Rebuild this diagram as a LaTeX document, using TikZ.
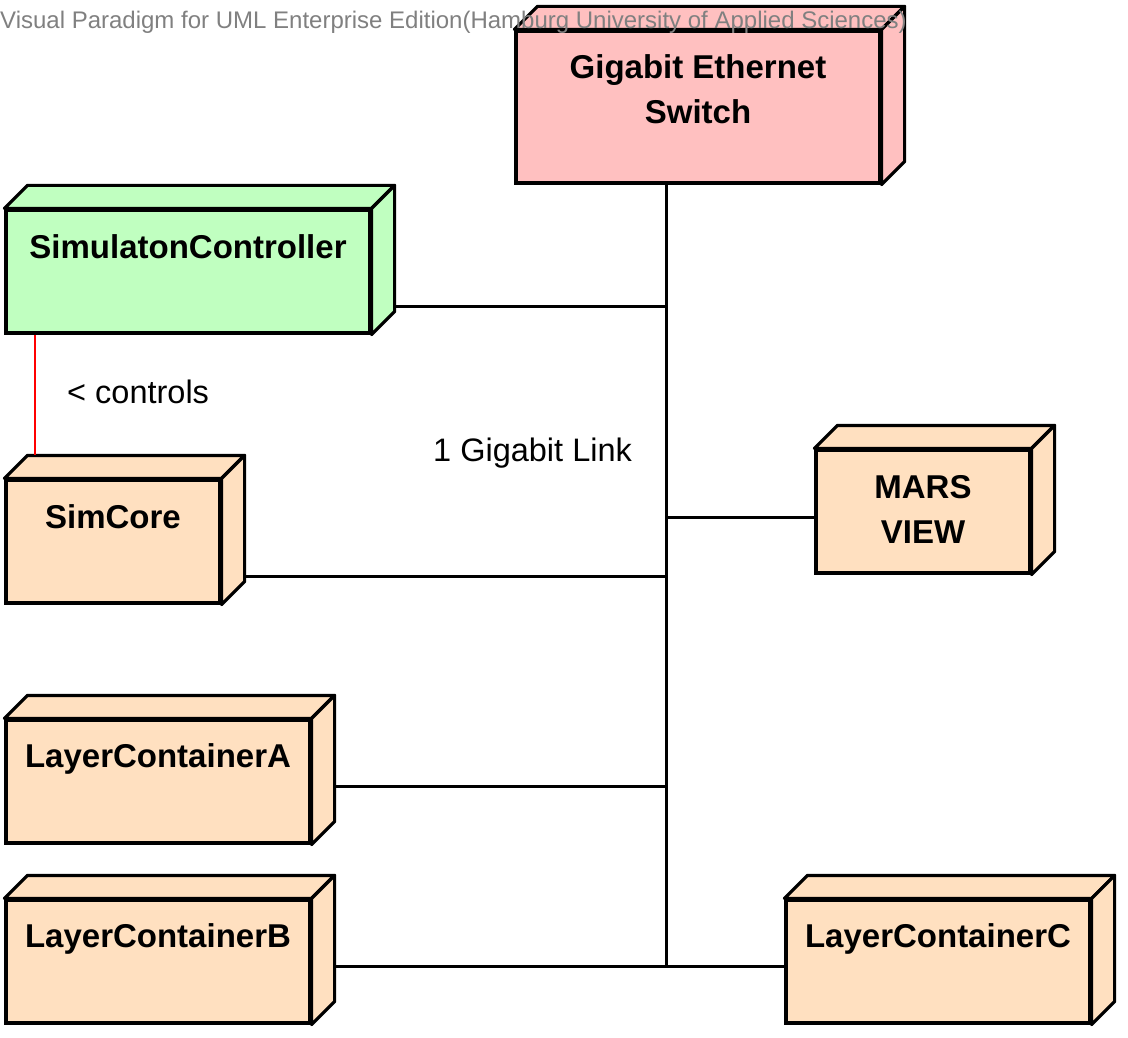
\documentclass[tikz,border=0pt]{standalone}
\usepackage{fontspec}
\setmainfont{Liberation Sans}
\usetikzlibrary{positioning}

\definecolor{switchpink}{RGB}{255,192,192}
\definecolor{ctrlgreen}{RGB}{192,255,192}
\definecolor{nodepeach}{RGB}{255,224,192}
\definecolor{vpgray}{RGB}{128,128,128}

% top and side face of a UML node
\newcommand{\nodesides}[2]{%
	\filldraw[fill=#2,line width=3.2pt,line join=round] (#1.north west) -- ++(23,-23) -- ([shift={(23,-23)}]#1.north east) -- (#1.north east) -- cycle;
	\filldraw[fill=#2,line width=3.2pt,line join=round] (#1.north east) -- ([shift={(23,-23)}]#1.north east) -- ([shift={(23,-23)}]#1.south east) -- (#1.south east) -- cycle;
	\coordinate (#1-back) at ([shift={(23,-23)}]#1.south east);
	\coordinate (#1-top) at ([shift={(23,-23)}]#1.north east);
}

\begin{document}
\begin{tikzpicture}[x=1pt,y=-1pt,
	uml node/.style = {rectangle,draw,line width=3.2pt,inner sep=0pt,minimum height=123pt},
	node title/.style = {anchor=base,inner sep=0pt,align=center,font=\fontsize{33}{45}\selectfont\bfseries},
	link label/.style = {anchor=base west,inner sep=0pt,font=\fontsize{32.5}{40}\selectfont},
	link/.style = {line width=3pt}]
	\useasboundingbox (0,0) rectangle (1128,1038);
	
	\node[uml node,fill=switchpink,minimum width=364pt,minimum height=152pt] (switch) at (698,107) {};
	\node[uml node,fill=ctrlgreen,minimum width=364pt] (ctrl) at (188,271.5) {};
	\node[uml node,fill=nodepeach,minimum width=214pt] (core) at (113,541.5) {};
	\node[uml node,fill=nodepeach,minimum width=214pt] (mars) at (923,511.5) {};
	\node[uml node,fill=nodepeach,minimum width=304pt] (lca) at (158,781.5) {};
	\node[uml node,fill=nodepeach,minimum width=304pt] (lcb) at (158,961.5) {};
	\node[uml node,fill=nodepeach,minimum width=304pt] (lcc) at (938,961.5) {};
	\nodesides{switch}{switchpink}
	\nodesides{ctrl}{ctrlgreen}
	\nodesides{core}{nodepeach}
	\nodesides{mars}{nodepeach}
	\nodesides{lca}{nodepeach}
	\nodesides{lcb}{nodepeach}
	\nodesides{lcc}{nodepeach}
	
	% base of a two-line title is its last line
	\node[node title] (switch-t) at ([yshift=-94pt]switch.north) {Gigabit Ethernet\\Switch};
	\node[node title] (ctrl-t) at ([yshift=-50pt]ctrl.north) {SimulatonController};
	\node[node title] (core-t) at ([yshift=-50pt]core.north) {SimCore};
	\node[node title] (mars-t) at ([yshift=-95pt]mars.north) {MARS\\VIEW};
	\node[node title] (lca-t) at ([yshift=-49pt]lca.north) {LayerContainerA};
	\node[node title] (lcb-t) at ([yshift=-49pt]lcb.north) {LayerContainerB};
	\node[node title] (lcc-t) at ([yshift=-49pt]lcc.north) {LayerContainerC};
	
	% the gigabit bus
	\coordinate (b1) at (666,306);
	\coordinate (b2) at (666,576);
	\coordinate (b3) at (666,517);
	\coordinate (b4) at (666,786);
	\coordinate (b5) at (666,966);
	\path[link]
	(b5 |- switch.south) edge (b5)
	(b1) edge (b1 -| ctrl-back)
	(b2) edge (b2 -| core-back)
	(b3) edge (b3 -| mars.west)
	(b4) edge (b4 -| lca-back)
	(b5) edge (b5 -| lcb-back)
	edge (b5 -| lcc.west);
	
	\coordinate (ctrl-c) at ([xshift=31pt]ctrl.south west);
	\draw[red,line width=2pt] (ctrl-c) -- (ctrl-c |- core-top);
	
	\node[link label] (ctrl-l) at (67,403) {< controls};
	\node[link label] (bus-l) at (433,461) {1 Gigabit Link};
	
	\node[anchor=base west,inner sep=0pt,text=vpgray,font=\fontsize{24}{29}\selectfont] (vp) at (0,29) {Visual Paradigm for UML Enterprise Edition(Hamburg University of Applied Sciences)};
\end{tikzpicture}
\end{document}
